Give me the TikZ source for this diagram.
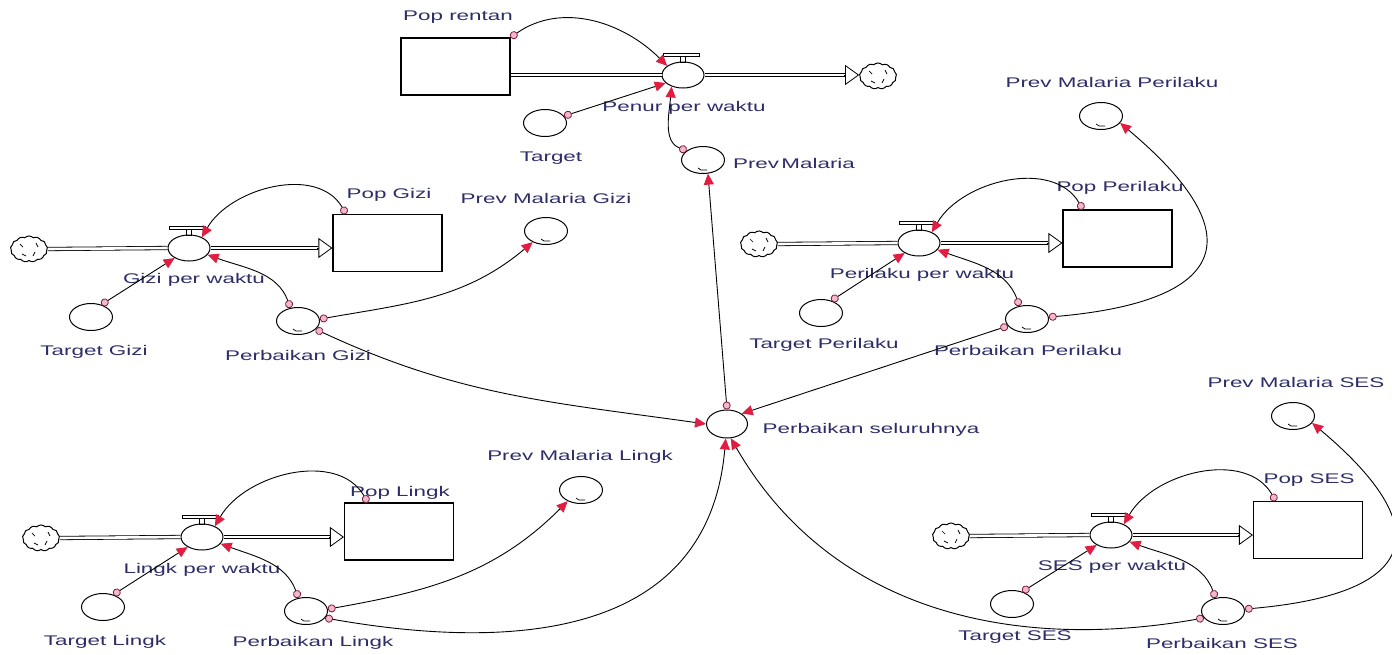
\documentclass[tikz,border=0pt]{standalone}
\usepackage{fontspec}
\newfontfamily\lblfont{Liberation Sans}[FakeStretch=1.6]
\usetikzlibrary{arrows.meta,shapes.geometric,shapes.symbols}

\definecolor{lblblue}{RGB}{45,45,105}
\definecolor{tipred}{RGB}{225,30,65}
\definecolor{dotred}{RGB}{130,25,55}
\definecolor{dotfill}{RGB}{240,185,205}

\begin{document}
\begin{tikzpicture}[x=1pt, y=1pt,
  stock/.style={draw, line width=1.1pt, minimum width=109pt, minimum height=57pt, inner sep=0pt},
  aux/.style={draw, ellipse, line width=1pt, minimum width=43pt, minimum height=27pt, inner sep=0pt},
  valve/.style={aux, minimum width=42pt, minimum height=26pt},
  cloudsym/.style={draw, cloud, cloud puffs=13, cloud puff arc=90, cloud ignores aspect,
    minimum width=37pt, minimum height=26pt, inner sep=0pt, line width=1pt},
  lbl/.style={font=\lblfont\fontsize{14}{16}\selectfont, text=lblblue, inner sep=0pt},
  pipe/.style={double, double distance=2.6pt, line width=0.8pt},
  pipehead/.style={line width=0.8pt, -{Triangle[length=14pt, width=20pt, fill=white]}},
  link/.style={line width=0.9pt,
    {Circle[length=8pt, line width=0.8pt, color=dotred, fill=dotfill]}-{Triangle[length=11pt, width=10pt, color=tipred, fill=tipred]}}]

  \useasboundingbox (0,0) rectangle (1392,-654);

  % Pop rentan sector
  \node[stock] (popRentan) at (455.5,-66.5) {};
  \node[valve] (penurValve) at (683,-75) {};
  \node[cloudsym] (sinkRentan) at (878,-76) {};
  \node[aux] (target) at (545,-123) {};
  \node[aux] (prevMalaria) at (703,-160) {};
  \coordinate (rentanOut) at (sinkRentan.west |- penurValve);

  \node[lbl] (lblPopRentan) at (458,-17) {Pop rentan};
  \node[lbl] (lblPenur) at (684,-108) {Penur per waktu};
  \node[lbl] (lblTarget) at (551,-158) {Target};
  \node[lbl] (lblPrevMalaria) at (794,-163) {Prev\,Malaria};

  % Gizi sector
  \node[cloudsym] (srcGizi) at (29,-249) {};
  \node[valve] (giziValve) at (189,-248) {};
  \node[stock] (popGizi) at (387.5,-243) {};
  \node[aux] (targetGizi) at (91,-317) {};
  \node[aux] (perbGizi) at (298,-321) {};
  \node[aux] (prevMalariaGizi) at (546,-231) {};
  \coordinate (giziIn) at (popGizi.west |- giziValve);

  \node[lbl] (lblPopGizi) at (389,-195) {Pop Gizi};
  \node[lbl] (lblPrevGizi) at (546,-198) {Prev Malaria Gizi};
  \node[lbl] (lblGiziValve) at (194,-280) {Gizi per waktu};
  \node[lbl] (lblTargetGizi) at (94,-352) {Target Gizi};
  \node[lbl] (lblPerbGizi) at (298,-355) {Perbaikan Gizi};

  % Perilaku sector
  \node[cloudsym] (srcPerilaku) at (759,-244) {};
  \node[valve] (perilakuValve) at (919,-243) {};
  \node[stock] (popPerilaku) at (1117.5,-238.5) {};
  \node[aux] (targetPerilaku) at (821,-313) {};
  \node[aux] (perbPerilaku) at (1027,-319) {};
  \node[aux] (prevMalariaPerilaku) at (1101,-116) {};
  \coordinate (perilakuIn) at (popPerilaku.west |- perilakuValve);

  \node[lbl] (lblPopPerilaku) at (1120,-188) {Pop Perilaku};
  \node[lbl] (lblPrevPerilaku) at (1112,-82) {Prev Malaria Perilaku};
  \node[lbl] (lblPerilakuValve) at (922,-275) {Perilaku per waktu};
  \node[lbl] (lblTargetPerilaku) at (824,-345) {Target Perilaku};
  \node[lbl] (lblPerbPerilaku) at (1028,-350) {Perbaikan Perilaku};

  % SES sector
  \node[cloudsym] (srcSES) at (951,-536) {};
  \node[valve] (sesValve) at (1111,-535) {};
  \node[stock] (popSES) at (1308,-530) {};
  \node[aux] (targetSES) at (1012,-604) {};
  \node[aux] (perbSES) at (1223,-611) {};
  \node[aux] (prevMalariaSES) at (1293,-416) {};
  \coordinate (sesIn) at (popSES.west |- sesValve);

  \node[lbl] (lblPopSES) at (1309,-480) {Pop SES};
  \node[lbl] (lblPrevSES) at (1296,-382) {Prev Malaria SES};
  \node[lbl] (lblSESValve) at (1112,-567) {SES per waktu};
  \node[lbl] (lblTargetSES) at (1015,-637) {Target SES};
  \node[lbl] (lblPerbSES) at (1222,-643) {Perbaikan SES};

  % Lingk sector
  \node[cloudsym] (srcLingk) at (41,-538) {};
  \node[valve] (lingkValve) at (202,-537) {};
  \node[stock] (popLingk) at (399,-531.5) {};
  \node[aux] (targetLingk) at (103,-607) {};
  \node[aux] (perbLingk) at (306,-611) {};
  \node[aux] (prevMalariaLingk) at (581,-490) {};
  \coordinate (lingkIn) at (popLingk.west |- lingkValve);

  \node[lbl] (lblPopLingk) at (400,-493) {Pop Lingk};
  \node[lbl] (lblPrevLingk) at (580,-457) {Prev Malaria Lingk};
  \node[lbl] (lblLingkValve) at (202,-570) {Lingk per waktu};
  \node[lbl] (lblTargetLingk) at (105,-642) {Target Lingk};
  \node[lbl] (lblPerbLingk) at (313,-643) {Perbaikan Lingk};

  % Perbaikan seluruhnya
  \node[aux, minimum width=41pt, minimum height=28pt] (perbSeluruh) at (727,-424) {};
  \node[lbl] (lblPerbSeluruh) at (871,-430) {Perbaikan seluruhnya};

  % Valve caps
  \foreach \v in {penurValve,giziValve,perilakuValve,sesValve,lingkValve}{
    \draw[line width=0.7pt] ([xshift=-20pt,yshift=19pt]\v.center) rectangle ([xshift=16pt,yshift=22pt]\v.center);
    \draw[line width=0.7pt] ([xshift=-3pt,yshift=13pt]\v.center) rectangle ([xshift=2pt,yshift=19pt]\v.center);
  }

  % Cloud marks
  \foreach \c in {sinkRentan,srcGizi,srcPerilaku,srcSES,srcLingk}{
    \draw[line width=0.7pt] ([shift={(-9pt,5pt)}]\c.center) -- ++(3,-3);
    \draw[line width=0.7pt] ([shift={(7pt,6pt)}]\c.center) -- ++(2,-4);
    \draw[line width=0.7pt] ([shift={(-7pt,-5pt)}]\c.center) -- ++(4,-2);
    \draw[line width=0.7pt] ([shift={(6pt,-3pt)}]\c.center) -- ++(-2,-4);
  }

  % Graph marks
  \foreach \n in {prevMalaria,prevMalariaGizi,perbGizi,prevMalariaPerilaku,perbPerilaku,
                  prevMalariaSES,perbSES,prevMalariaLingk,perbLingk}{
    \draw[line width=0.7pt] ([xshift=-5pt,yshift=-8pt]\n.center) -- ++(3,-2) -- ++(6,0);
  }

  % Pipes
  \draw[pipe] (popRentan.east |- penurValve) -- (penurValve.west);
  \draw[pipe, shorten >=14pt] (penurValve.east) -- (rentanOut);
  \draw[pipehead] ([xshift=-15pt]rentanOut) -- (rentanOut);

  \draw[pipe] (srcGizi.east) -- (giziValve.west);
  \draw[pipe, shorten >=14pt] (giziValve.east) -- (giziIn);
  \draw[pipehead] ([xshift=-15pt]giziIn) -- (giziIn);

  \draw[pipe] (srcPerilaku.east) -- (perilakuValve.west);
  \draw[pipe, shorten >=14pt] (perilakuValve.east) -- (perilakuIn);
  \draw[pipehead] ([xshift=-15pt]perilakuIn) -- (perilakuIn);

  \draw[pipe] (srcSES.east) -- (sesValve.west);
  \draw[pipe, shorten >=14pt] (sesValve.east) -- (sesIn);
  \draw[pipehead] ([xshift=-15pt]sesIn) -- (sesIn);

  \draw[pipe] (srcLingk.east) -- (lingkValve.west);
  \draw[pipe, shorten >=14pt] (lingkValve.east) -- (lingkIn);
  \draw[pipehead] ([xshift=-15pt]lingkIn) -- (lingkIn);

  % Links, top
  \draw[link] (popRentan.north east) to[out=35, in=135] (penurValve.150);
  \draw[link] (target.20) -- (penurValve.205);
  \draw[link] (prevMalaria.150) to[out=160, in=265] (penurValve.225);
  \draw[link] (perbSeluruh.north) -- (prevMalaria.290);

  % Links, Gizi
  \draw[link] (popGizi.145) to[out=120, in=60] (giziValve.40);
  \draw[link] (targetGizi.50) -- (giziValve.215);
  \draw[link] (perbGizi.120) to[out=110, in=-20] (giziValve.340);
  \draw[link] (perbGizi.5) to[out=10, in=220] (prevMalariaGizi.220);
  \draw[link] (perbGizi.335) to[out=-25, in=172] (perbSeluruh.180);

  % Links, Perilaku
  \draw[link] (popPerilaku.140) to[out=120, in=60] (perilakuValve.40);
  \draw[link] (targetPerilaku.50) -- (perilakuValve.215);
  \draw[link] (perbPerilaku.120) to[out=110, in=-20] (perilakuValve.340);
  \draw[link] (perbPerilaku.5) to[out=5, in=-40, looseness=2.2] (prevMalariaPerilaku.340);
  \draw[link] (perbPerilaku.200) -- (perbSeluruh.35);

  % Links, SES
  \draw[link] (popSES.138) to[out=120, in=60] (sesValve.40);
  \draw[link] (targetSES.50) -- (sesValve.215);
  \draw[link] (perbSES.120) to[out=110, in=-20] (sesValve.340);
  \draw[link] (perbSES.5) to[out=5, in=-40, looseness=2.2] (prevMalariaSES.340);
  \draw[link] (perbSES.200) to[out=190, in=-60] (perbSeluruh.-75);

  % Links, Lingk
  \draw[link] (popLingk.137) to[out=120, in=60] (lingkValve.40);
  \draw[link] (targetLingk.50) -- (lingkValve.215);
  \draw[link] (perbLingk.120) to[out=110, in=-20] (lingkValve.340);
  \draw[link] (perbLingk.5) to[out=10, in=225] (prevMalariaLingk.220);
  \draw[link] (perbLingk.340) to[out=-10, in=-95, looseness=1.15] (perbSeluruh.-95);
\end{tikzpicture}
\end{document}
